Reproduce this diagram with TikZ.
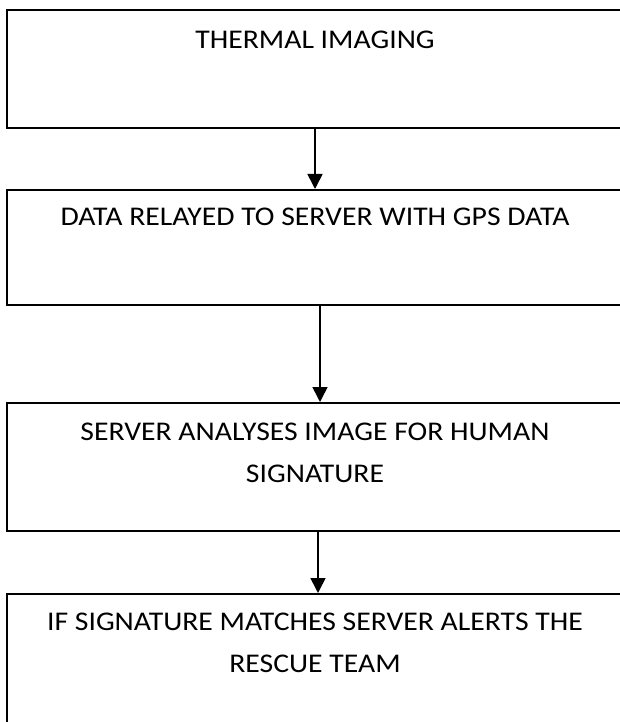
\documentclass[tikz,border=0pt]{standalone}
\usepackage{fontspec}
\setmainfont{Carlito}[FakeStretch=1.1]
\usetikzlibrary{arrows.meta}
\begin{document}
\begin{tikzpicture}[x=1pt,y=-1pt,
  box/.style={draw,line width=1.6pt,minimum width=616pt,anchor=north,inner sep=0pt},
  txt/.style={align=center,anchor=north,inner sep=0pt,font=\fontsize{27}{42}\selectfont},
  arr/.style={draw,line width=1.6pt,-{Triangle[width=15pt,length=15pt]}}]
\useasboundingbox (0,0) rectangle (619,722);
\node[box,minimum height=118pt] (1) at (315,9) {};
\node[box,minimum height=115pt] (2) at (315,189) {};
\node[box,minimum height=128pt] (3) at (315,402) {};
\node[box,minimum height=160pt] (4) at (315,593) {};
\node[txt] (t1) at (315,31) {THERMAL IMAGING};
\node[txt] (t2) at (315,208) {DATA RELAYED TO SERVER WITH GPS DATA};
\node[txt] (t3) at (315,423) {SERVER ANALYSES IMAGE FOR HUMAN\\SIGNATURE};
\node[txt] (t4) at (315,613) {IF SIGNATURE MATCHES SERVER ALERTS THE\\RESCUE TEAM};
\path[arr] (1.south) -- (2.north);
\path[arr] ([xshift=5pt]2.south) -- ([xshift=5pt]3.north);
\path[arr] ([xshift=3pt]3.south) -- ([xshift=3pt]4.north);
\end{tikzpicture}
\end{document}
